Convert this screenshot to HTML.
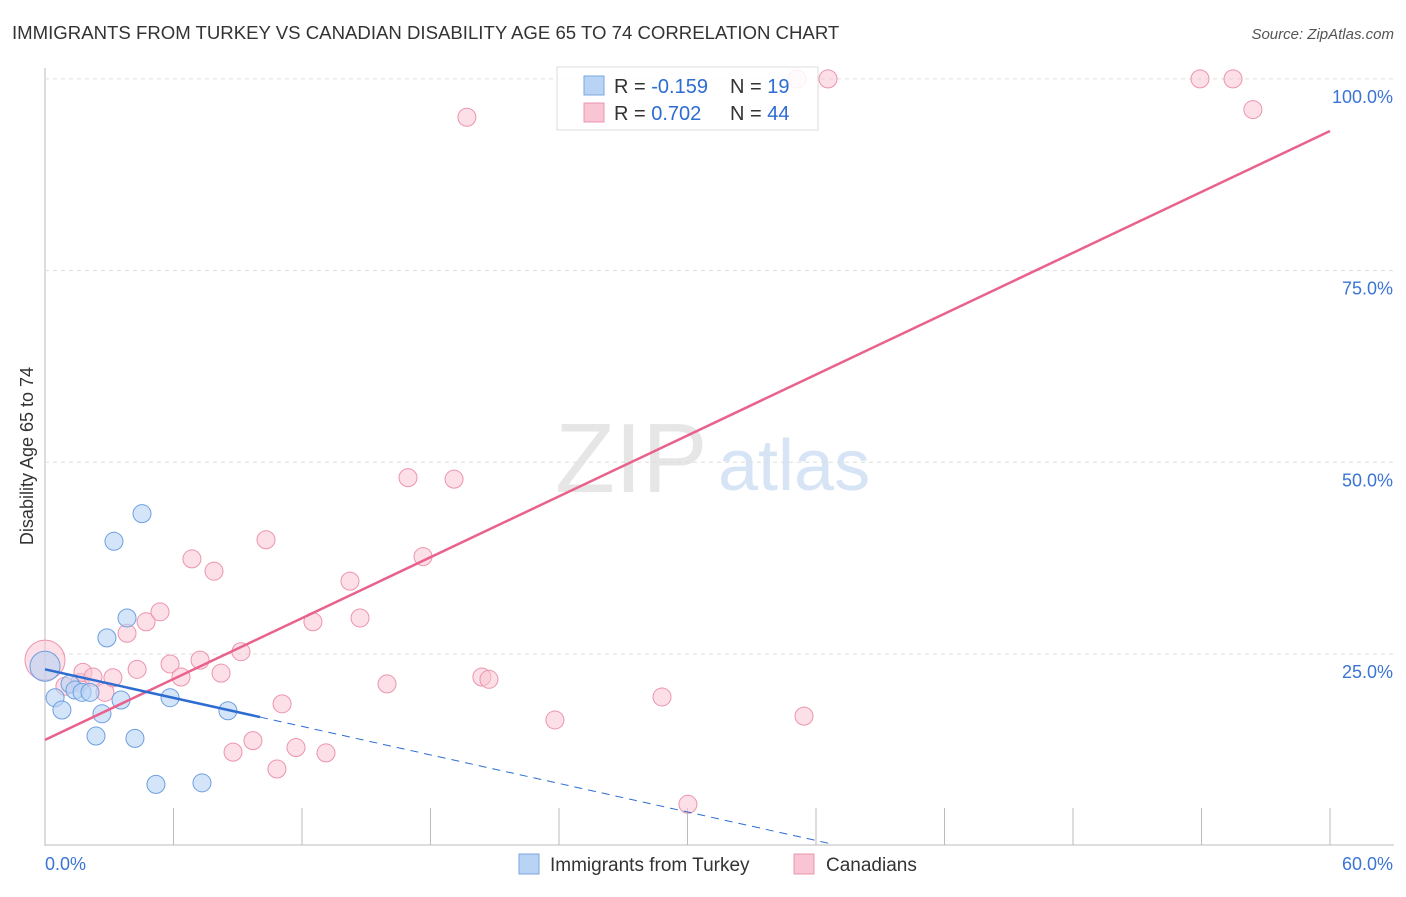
<!DOCTYPE html>
<html><head><meta charset="utf-8"><style>
body{margin:0;background:#fff;font-family:"Liberation Sans",sans-serif;}
svg text{font-family:"Liberation Sans",sans-serif;}
</style></head><body>
<svg id="c" width="1406" height="892">
<text x="12" y="39" font-size="18.6" fill="#333">IMMIGRANTS FROM TURKEY VS CANADIAN DISABILITY AGE 65 TO 74 CORRELATION CHART</text>
<text x="1394" y="39" font-size="15" fill="#555" text-anchor="end" font-style="italic">Source: ZipAtlas.com</text>
<text x="555" y="492" font-size="98" fill="#e6e6e6" font-family="Liberation Serif">ZIP</text>
<text x="718" y="490" font-size="72" fill="#d6e4f5">atlas</text>
<text transform="translate(33,456) rotate(-90)" font-size="18" fill="#333" text-anchor="middle">Disability Age 65 to 74</text>
<g id="grid"></g><g id="marks"></g>
<g>
<rect x="557" y="67" width="261" height="63" fill="#fff" fill-opacity="0.85" stroke="#ddd"/>
<rect x="584" y="76" width="20" height="19" fill="#b9d3f5" stroke="#7aa7e0"/>
<rect x="584" y="103" width="20" height="19" fill="#f9c4d3" stroke="#ec94ae"/>
<text x="614" y="93" font-size="20" fill="#333">R = <tspan fill="#2d6cd1">-0.159</tspan><tspan x="730">N = </tspan><tspan fill="#2d6cd1"> 19</tspan></text>
<text x="614" y="120" font-size="20" fill="#333">R = <tspan fill="#2d6cd1"> 0.702</tspan><tspan x="730">N = </tspan><tspan fill="#2d6cd1"> 44</tspan></text>
</g>
<g>
<rect x="519" y="854" width="20" height="20" fill="#b9d3f5" stroke="#7aa7e0"/>
<text x="550" y="871" font-size="19" fill="#333">Immigrants from Turkey</text>
<rect x="794" y="854" width="20" height="20" fill="#f9c4d3" stroke="#ec94ae"/>
<text x="826" y="871" font-size="19" fill="#333">Canadians</text>
</g>
</svg>
<script>
const xTicks=[0,60];
const yTicks=[25,50,75,100];
const blueX=[0,0.47,0.79,1.17,1.40,1.73,2.10,2.38,2.66,2.89,3.22,3.55,3.83,4.20,4.53,5.18,5.84,7.33,8.54];
const blueY=[23.4,19.3,17.7,21.1,20.3,20.0,20.0,14.3,17.2,27.1,39.7,19.0,29.7,14.0,43.3,8.0,19.3,8.2,17.6];
const pinkX=[0,0.93,1.63,1.77,2.24,2.80,3.17,3.83,4.30,4.72,5.37,5.84,6.35,6.86,7.24,7.89,8.22,8.78,9.15,9.71,10.32,10.83,11.07,11.72,12.51,13.12,14.24,14.71,15.97,16.95,17.65,19.10,19.70,20.40,20.73,23.81,28.81,30.02,35.11,35.44,36.56,53.93,55.47,56.40];
const pinkY=[24.2,20.8,21.3,22.6,22.0,20.0,21.9,27.7,23.0,29.2,30.5,23.7,22.0,37.4,24.2,35.8,22.5,12.2,25.3,13.7,39.9,10.0,18.5,12.8,29.2,12.1,34.5,29.7,21.1,48.0,37.7,47.8,95.0,22.0,21.7,16.4,19.4,5.4,100,16.9,100,100,100,96.0];
const pinkLine=[13.8,93.2];
const blueLine=[23.0,-0.62];
const NS="http://www.w3.org/2000/svg";
const X=v=>45+v/60*1285, Y=v=>845.7-v*7.668;
function mk(t,a,p){const e=document.createElementNS(NS,t);for(const k in a)e.setAttribute(k,a[k]);p.appendChild(e);return e;}
const g=document.getElementById('grid'),m=document.getElementById('marks');
let ax=mk('line',{x1:45,y1:68,x2:45,y2:846,stroke:'#bbb'},g);


let bx=mk('line',{x1:45,y1:845,x2:1394,y2:845,stroke:'#bbb'},g);


for(let i=0;i<=10;i++){let t=mk('line',{x1:X(i*6),x2:X(i*6),y1:808,y2:845,stroke:'#bbb'},g);

}
yTicks.forEach(v=>{let l=mk('line',{x1:45,x2:1394,y1:Y(v),y2:Y(v),stroke:'#ddd','stroke-dasharray':'4,4'},g);


let t=mk('text',{x:1393,y:Y(v)+24,'font-size':18,fill:'#3b74d4','text-anchor':'end'},g);t.textContent=v.toFixed(1)+'%';

});
xTicks.forEach((v,i)=>{let t=mk('text',{x:i?1393:45,y:870,'font-size':18,fill:'#3b74d4','text-anchor':i?'end':'start'},g);t.textContent=v.toFixed(1)+'%';

});
pinkX.forEach((x,i)=>{let c=mk('circle',{cx:X(x),cy:Y(pinkY[i]),r:i==0?20:9,fill:'#f9c4d3','fill-opacity':0.55,stroke:'#ec94ae','stroke-width':1},m);

});
blueX.forEach((x,i)=>{let c=mk('circle',{cx:X(x),cy:Y(blueY[i]),r:i==0?15:9,fill:'#b9d3f5','fill-opacity':0.6,stroke:'#6d9fe0','stroke-width':1},m);

});
let pl=mk('line',{x1:X(0),y1:Y(pinkLine[0]),x2:X(60),y2:Y(pinkLine[1]),stroke:'#e8628c','stroke-width':2.5},m);


const bs=blueLine[1];
let bl=mk('line',{x1:X(0),y1:Y(blueLine[0]),x2:X(10.04),y2:Y(blueLine[0]+bs*10.04),stroke:'#2d6cd1','stroke-width':2.5},m);


let bd=mk('line',{x1:X(10.04),y1:Y(blueLine[0]+bs*10.04),x2:X(36.8),y2:Y(blueLine[0]+bs*36.8),stroke:'#2d6cd1','stroke-width':1,'stroke-dasharray':'8,6'},m);


</script>
</body></html>
